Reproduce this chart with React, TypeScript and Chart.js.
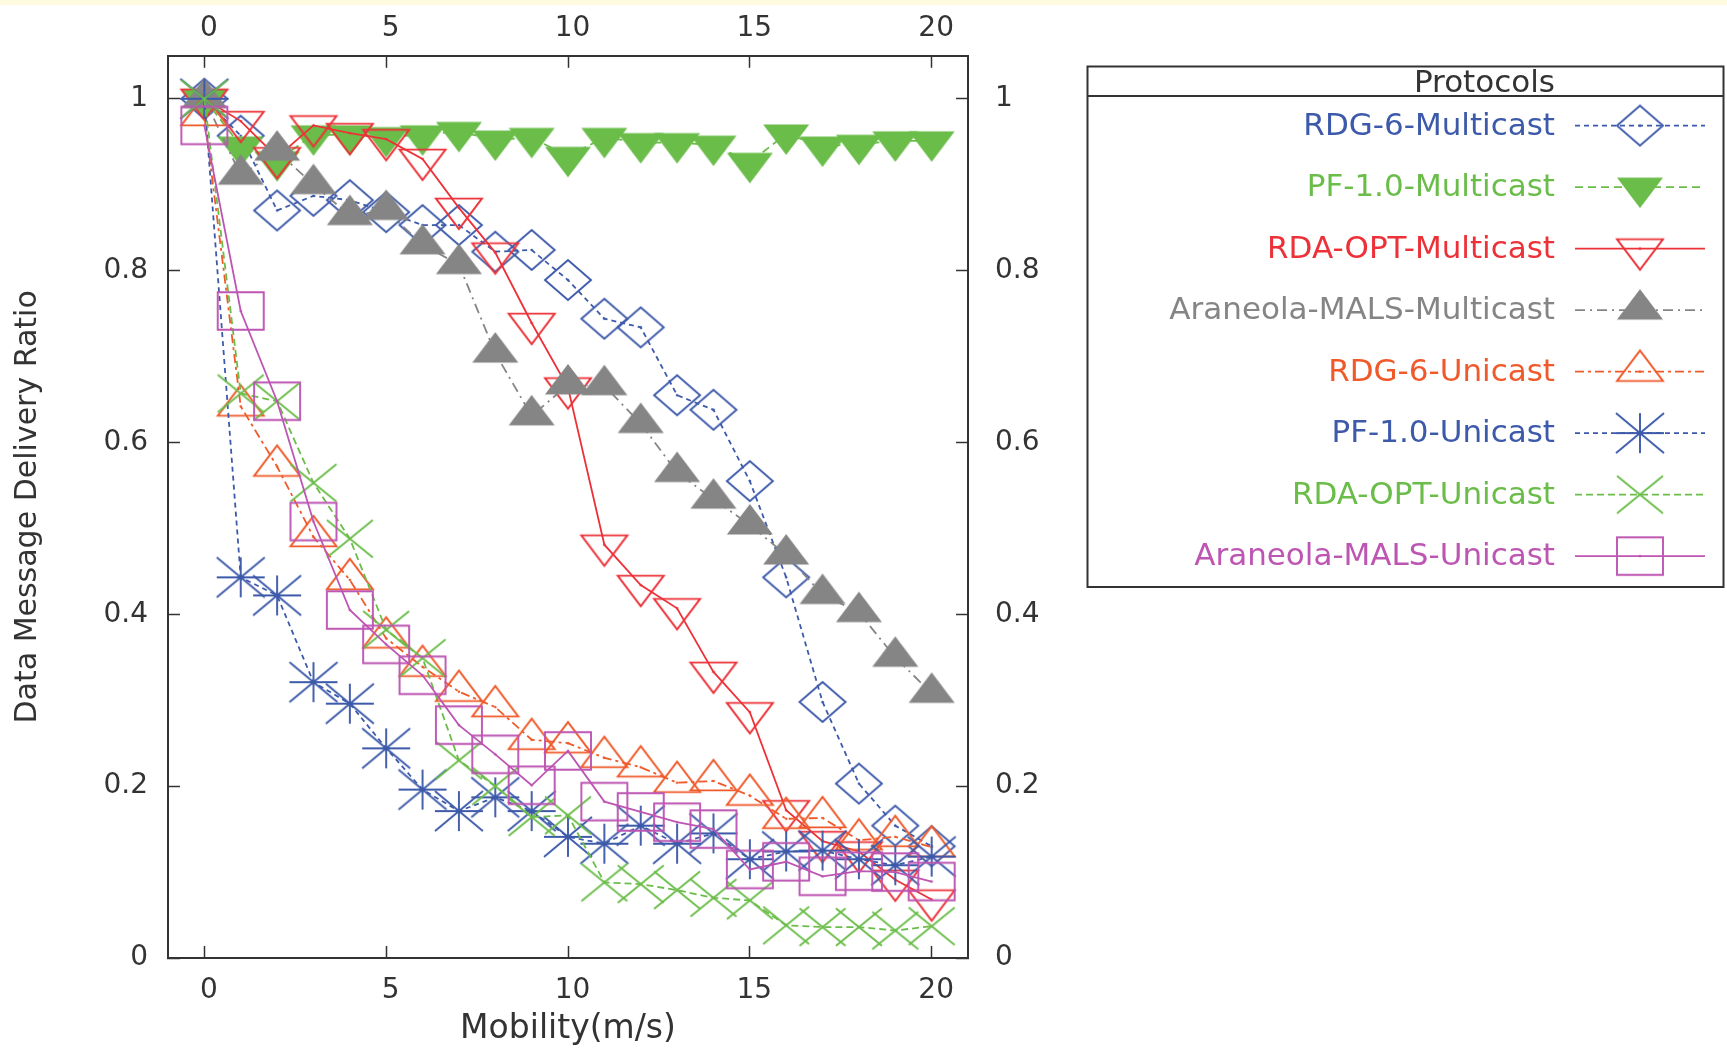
import React, { useEffect, useRef } from 'react';
import { Chart, registerables } from 'chart.js';

Chart.register(...registerables);

// ---------------- data ----------------
const mobility = [0, 1, 2, 3, 4, 5, 6, 7, 8, 9, 10, 11, 12, 13, 14, 15, 16, 17, 18, 19, 20];

const rdg6Multicast = [1.0, 0.957, 0.87, 0.887, 0.882, 0.868, 0.853, 0.853, 0.822, 0.824, 0.789, 0.744, 0.734, 0.655, 0.638, 0.555, 0.443, 0.298, 0.203, 0.154, 0.13];
const pf10Multicast = [1.0, 0.945, 0.928, 0.958, 0.958, 0.956, 0.958, 0.962, 0.952, 0.955, 0.933, 0.955, 0.949, 0.949, 0.946, 0.926, 0.959, 0.945, 0.947, 0.951, 0.951];
const rdaOptMulticast = [1.0, 0.974, 0.932, 0.969, 0.96, 0.953, 0.93, 0.873, 0.821, 0.739, 0.664, 0.481, 0.434, 0.407, 0.333, 0.286, 0.172, 0.136, 0.124, 0.091, 0.068];
const araneolaMulticast = [1.0, 0.911, 0.939, 0.9, 0.864, 0.87, 0.83, 0.807, 0.704, 0.631, 0.667, 0.666, 0.622, 0.565, 0.534, 0.504, 0.469, 0.423, 0.402, 0.35, 0.308];
const rdg6Unicast = [0.98, 0.642, 0.572, 0.49, 0.44, 0.372, 0.339, 0.31, 0.292, 0.254, 0.25, 0.233, 0.222, 0.204, 0.206, 0.189, 0.162, 0.163, 0.137, 0.141, 0.129];
const pf10Unicast = [1.0, 0.443, 0.422, 0.321, 0.296, 0.244, 0.196, 0.171, 0.187, 0.171, 0.141, 0.133, 0.154, 0.133, 0.145, 0.115, 0.124, 0.125, 0.115, 0.108, 0.118];
const rdaOptUnicast = [1.0, 0.657, 0.648, 0.553, 0.488, 0.382, 0.349, 0.23, 0.2, 0.164, 0.166, 0.088, 0.086, 0.079, 0.07, 0.067, 0.038, 0.036, 0.036, 0.032, 0.037];
const araneolaUnicast = [0.969, 0.753, 0.648, 0.508, 0.405, 0.365, 0.329, 0.271, 0.237, 0.201, 0.241, 0.182, 0.17, 0.158, 0.15, 0.103, 0.112, 0.095, 0.101, 0.1, 0.089];

const seriesNames = [
  'RDG-6-Multicast',
  'PF-1.0-Multicast',
  'RDA-OPT-Multicast',
  'Araneola-MALS-Multicast',
  'RDG-6-Unicast',
  'PF-1.0-Unicast',
  'RDA-OPT-Unicast',
  'Araneola-MALS-Unicast',
];

const xTickValues = [0, 5, 10, 15, 20];
const xTickLabels = ['0', '5', '10', '15', '20'];
const yTickValues = [0, 0.2, 0.4, 0.6, 0.8, 1];
const yTickLabels = ['0', '0.2', '0.4', '0.6', '0.8', '1'];

const xTitle = 'Mobility(m/s)';
const yTitle = 'Data Message Delivery Ratio';
const keyTitle = 'Protocols';

// ---------------- styles ----------------
const seriesColors = ['#3d5aaa', '#6bbd4a', '#ec3238', '#858585', '#f05a2a', '#3d5aaa', '#6bbd4a', '#bd55b3'];
const seriesDashes: number[][] = [[5, 4], [8, 5], [], [10, 5, 2, 5], [9, 4, 3, 4], [5, 4], [7, 4], []];
const seriesMarkers = ['diamond', 'triangleDownFilled', 'triangleDown', 'triangleUpFilled', 'triangleUp', 'star', 'cross', 'square'];

const FONT = 'DejaVu Sans';
const TEXT = '#333333';
const FRAME = '#333333';

function makeMarker(kind: string, color: string): HTMLCanvasElement {
  const W = 60;
  const H = 56;
  const c = document.createElement('canvas');
  c.width = W;
  c.height = H;
  const g = c.getContext('2d');
  if (!g) return c;
  const cx = W / 2;
  const cy = H / 2;
  const hx = 23;
  const hy = 18.8;
  g.strokeStyle = color;
  g.fillStyle = color;
  g.lineWidth = 1.9;
  g.lineJoin = 'miter';
  g.beginPath();
  if (kind === 'diamond') {
    g.moveTo(cx - hx, cy);
    g.lineTo(cx, cy - 20);
    g.lineTo(cx + hx, cy);
    g.lineTo(cx, cy + 20);
    g.closePath();
    g.stroke();
  } else if (kind === 'square') {
    g.rect(cx - hx, cy - hy, 2 * hx, 2 * hy);
    g.stroke();
  } else if (kind === 'triangleUp' || kind === 'triangleUpFilled') {
    g.moveTo(cx, cy - 1.12 * hy);
    g.lineTo(cx + hx, cy + 0.5 * hy);
    g.lineTo(cx - hx, cy + 0.5 * hy);
    g.closePath();
    if (kind === 'triangleUpFilled') g.fill();
    else g.stroke();
  } else if (kind === 'triangleDown' || kind === 'triangleDownFilled') {
    g.moveTo(cx, cy + 1.12 * hy);
    g.lineTo(cx + hx, cy - 0.5 * hy);
    g.lineTo(cx - hx, cy - 0.5 * hy);
    g.closePath();
    if (kind === 'triangleDownFilled') g.fill();
    else g.stroke();
  } else if (kind === 'star') {
    const sx = 24;
    const sy = 20;
    g.moveTo(cx - sx, cy);
    g.lineTo(cx + sx, cy);
    g.moveTo(cx, cy - sy);
    g.lineTo(cx, cy + sy);
    g.moveTo(cx - sx, cy - sy);
    g.lineTo(cx + sx, cy + sy);
    g.moveTo(cx - sx, cy + sy);
    g.lineTo(cx + sx, cy - sy);
    g.stroke();
  } else if (kind === 'cross') {
    g.moveTo(cx - hx, cy - hy);
    g.lineTo(cx + hx, cy + hy);
    g.moveTo(cx - hx, cy + hy);
    g.lineTo(cx + hx, cy - hy);
    g.stroke();
  }
  if (!kind.endsWith('Filled')) {
    g.beginPath();
    g.arc(cx, cy, 1.3, 0, Math.PI * 2);
    g.fill();
  }
  return c;
}

export default function App() {
  const canvasRef = useRef<HTMLCanvasElement>(null);

  useEffect(() => {
    const canvas = canvasRef.current;
    if (!canvas) return;
    const seriesValues = [
      rdg6Multicast,
      pf10Multicast,
      rdaOptMulticast,
      araneolaMulticast,
      rdg6Unicast,
      pf10Unicast,
      rdaOptUnicast,
      araneolaUnicast,
    ];
    const markers = seriesMarkers.map((m, i) => makeMarker(m, seriesColors[i]));

    const datasets = seriesValues.map((vals, i) => ({
      label: seriesNames[i],
      data: vals.map((v, j) => ({ x: mobility[j], y: v })),
      borderColor: seriesColors[i],
      backgroundColor: seriesColors[i],
      borderWidth: 1.8,
      borderDash: seriesDashes[i],
      pointStyle: markers[i],
      pointRadius: 20,
      pointHoverRadius: 20,
      tension: 0,
      fill: false,
      clip: false as any,
      order: seriesValues.length - 1 - i,
    }));

    const tickFont = { family: FONT, size: 28 };
    const grid = {
      display: true,
      drawOnChartArea: false,
      drawTicks: true,
      tickLength: -12,
      tickWidth: 1.5,
      tickColor: FRAME,
    };
    const border = { display: true, color: FRAME, width: 2 };
    const setX = (s: any) => {
      s.ticks = xTickValues.map((v) => ({ value: v }));
    };
    const setY = (s: any) => {
      s.ticks = yTickValues.map((v) => ({ value: v }));
    };

    const keyPlugin = {
      id: 'protocolKey',
      afterDraw(chart: any) {
        const ctx = chart.ctx as CanvasRenderingContext2D;
        const boxL = 1087.5;
        const boxT = 66.5;
        const boxR = 1723.5;
        const boxB = 587;
        const sepY = 96;
        const textRight = 1555;
        const lineL = 1575;
        const lineR = 1705;
        const markX = 1640;
        const row0 = 125.6;
        const rowStep = 61.5;
        ctx.save();
        ctx.strokeStyle = FRAME;
        ctx.lineWidth = 2;
        ctx.strokeRect(boxL, boxT, boxR - boxL, boxB - boxT);
        ctx.beginPath();
        ctx.moveTo(boxL, sepY);
        ctx.lineTo(boxR, sepY);
        ctx.stroke();
        ctx.font = `31px "${FONT}"`;
        ctx.textAlign = 'right';
        ctx.textBaseline = 'middle';
        ctx.fillStyle = TEXT;
        ctx.fillText(keyTitle, textRight, 84);
        seriesNames.forEach((name, i) => {
          const y = row0 + rowStep * i;
          ctx.fillStyle = seriesColors[i];
          ctx.fillText(name, textRight, y + 1);
          ctx.save();
          ctx.strokeStyle = seriesColors[i];
          ctx.lineWidth = 1.6;
          ctx.setLineDash(seriesDashes[i]);
          ctx.beginPath();
          ctx.moveTo(lineL, y);
          ctx.lineTo(lineR, y);
          ctx.stroke();
          ctx.restore();
          const m = markers[i];
          ctx.drawImage(m, markX - m.width / 2, y - m.height / 2);
        });
        ctx.restore();
      },
    };

    const chart = new Chart(canvas, {
      type: 'line',
      data: { datasets: datasets as any },
      options: {
        responsive: false,
        animation: false,
        devicePixelRatio: 1,
        events: [],
        layout: { padding: 0 },
        plugins: {
          legend: { display: false },
          tooltip: { enabled: false },
        },
        scales: {
          x: {
            type: 'linear',
            position: 'bottom',
            min: -1,
            max: 21,
            afterBuildTicks: setX,
            afterFit: (s: any) => {
              s.height = 90;
            },
            ticks: {
              font: tickFont,
              color: TEXT,
              padding: 28,
              labelOffset: 4.5,
              autoSkip: false,
              maxRotation: 0,
              minRotation: 0,
              callback: (_v: any, i: number) => xTickLabels[i],
            },
            grid,
            border,
            title: {
              display: true,
              text: xTitle,
              font: { family: FONT, size: 33 },
              color: TEXT,
              padding: { top: 0, bottom: -1 },
            },
          },
          x2: {
            type: 'linear',
            position: 'top',
            min: -1,
            max: 21,
            afterBuildTicks: setX,
            afterFit: (s: any) => {
              s.height = 52;
            },
            ticks: {
              font: tickFont,
              color: TEXT,
              padding: 22,
              labelOffset: 4.5,
              autoSkip: false,
              maxRotation: 0,
              minRotation: 0,
              callback: (_v: any, i: number) => xTickLabels[i],
            },
            grid,
            border,
          },
          y: {
            type: 'linear',
            position: 'left',
            min: 0,
            max: 1.05,
            afterBuildTicks: setY,
            afterFit: (s: any) => {
              s.width = 168;
            },
            ticks: {
              font: tickFont,
              color: TEXT,
              padding: 32,
              autoSkip: false,
              callback: (_v: any, i: number) => yTickLabels[i],
            },
            grid,
            border,
            title: {
              display: true,
              text: yTitle,
              font: { family: FONT, size: 30 },
              color: TEXT,
              padding: { top: 10, bottom: 0 },
            },
          },
          y2: {
            type: 'linear',
            position: 'right',
            min: 0,
            max: 1.05,
            afterBuildTicks: setY,
            afterFit: (s: any) => {
              s.width = 759;
            },
            ticks: {
              font: tickFont,
              color: TEXT,
              padding: 39,
              autoSkip: false,
              callback: (_v: any, i: number) => yTickLabels[i],
            },
            grid,
            border,
          },
        },
      } as any,
      plugins: [keyPlugin],
    });

    return () => {
      chart.destroy();
    };
  }, []);

  return (
    <div
      style={{
        position: 'absolute',
        left: 0,
        top: 0,
        width: 1727,
        height: 1048,
        background: '#ffffff',
        overflow: 'hidden',
      }}
    >
      <div
        style={{
          position: 'absolute',
          left: 0,
          top: 0,
          width: 1727,
          height: 5,
          background: '#fffbe1',
        }}
      />
      <canvas
        ref={canvasRef}
        width={1727}
        height={1048}
        style={{ position: 'absolute', left: 0, top: 0, width: 1727, height: 1048 }}
      />
    </div>
  );
}
